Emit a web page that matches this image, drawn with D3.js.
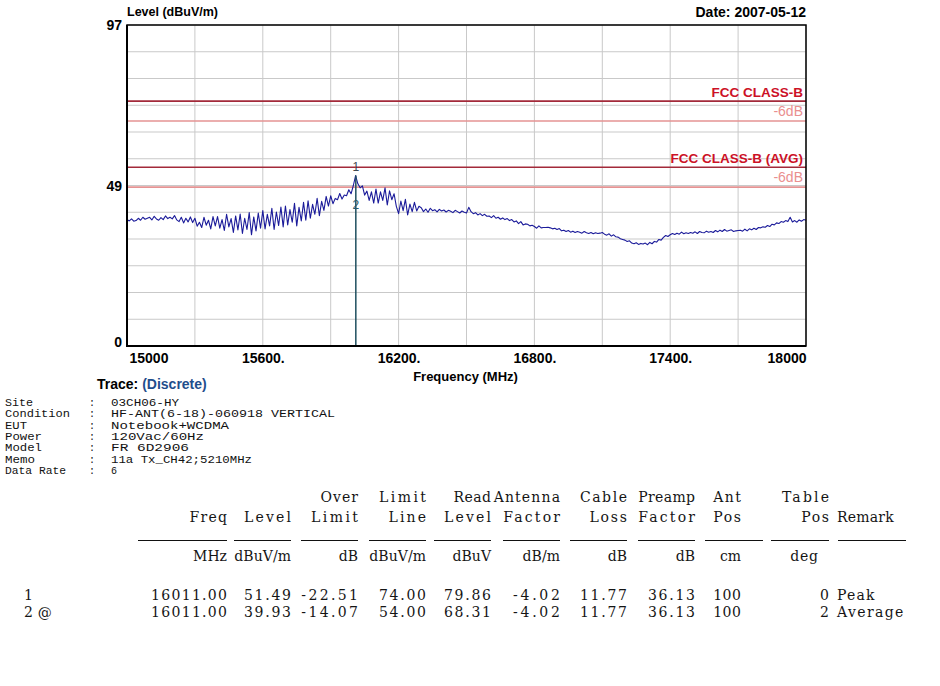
<!DOCTYPE html>
<html><head><meta charset="utf-8">
<script src="https://cdn.jsdelivr.net/npm/d3@7/dist/d3.min.js"></script>
<style>body{margin:0;background:#fff;}svg{display:block;}</style>
</head><body>
<svg id="c" width="940" height="686"></svg>
<script>
// ---------------- data ----------------
const traceStartMHz = 15000;
const traceStepMHz = 10;
const traceLevels = [
  38.2,37.8,38.4,37.7,37.9,38.6,38.0,38.9,38.3,38.6,
  38.9,38.1,39.2,38.4,38.0,38.8,38.2,39.3,38.5,38.9,
  38.4,39.4,38.1,37.6,38.9,37.2,38.6,37.5,39.0,37.3,
  38.6,36.2,37.4,35.8,38.9,36.5,38.0,35.4,39.1,36.3,
  39.1,35.6,38.2,34.9,39.8,36.0,38.5,34.3,39.3,35.1,
  39.9,34.0,38.6,35.2,40.3,33.6,39.0,34.8,40.2,35.6,
  40.9,35.4,39.8,36.3,41.6,35.2,40.5,36.4,42.0,36.0,
  42.3,36.6,41.2,37.4,43.1,36.3,41.9,37.8,43.4,38.0,
  43.9,38.6,42.8,39.8,44.6,39.4,43.7,41.0,45.2,42.3,
  45.4,43.0,44.6,44.2,46.1,44.4,45.6,45.4,47.2,46.0,
  48.5,51.5,49.0,47.8,48.4,45.6,46.8,44.0,46.6,43.2,
  47.4,43.2,46.6,44.0,47.8,42.6,46.9,44.2,46.0,42.2,
  40.0,43.8,40.9,44.3,39.6,42.9,40.6,43.4,40.8,42.2,
  41.8,40.6,41.4,40.4,41.6,40.9,41.2,40.5,41.3,40.8,
  41.1,40.5,41.0,40.7,40.3,41.0,40.6,40.2,40.8,40.4,
  40.2,41.9,40.6,40.0,40.3,39.6,40.0,39.4,39.8,39.2,
  39.3,38.8,39.4,38.6,38.9,38.3,38.7,38.2,38.5,37.9,
  38.2,37.5,37.8,37.0,37.6,36.6,36.9,36.8,36.3,36.5,
  36.1,35.6,36.3,35.7,35.8,35.8,35.9,35.7,35.4,35.6,
  35.2,35.5,34.8,35.0,34.6,34.9,34.4,34.7,34.3,34.6,
  34.4,34.1,34.6,34.2,34.0,34.3,33.9,34.2,34.0,34.1,
  34.3,33.8,33.5,33.9,33.2,33.6,33.0,32.9,32.4,32.2,
  32.0,31.6,31.8,31.1,30.9,31.2,30.7,31.0,30.8,31.1,
  30.6,31.3,30.9,31.6,31.4,32.2,32.0,32.8,33.4,33.1,
  33.6,34.0,33.7,34.1,33.8,34.4,33.9,34.2,34.0,34.3,
  34.1,34.5,34.0,34.6,34.3,34.2,34.7,34.4,34.6,34.3,
  34.9,34.5,35.0,34.6,35.2,34.7,34.9,35.1,34.6,34.8,
  34.9,35.0,34.7,35.3,34.8,35.4,35.1,35.6,35.2,35.8,
  35.7,36.0,35.9,36.4,36.1,36.8,36.6,37.2,37.0,37.6,
  37.4,37.9,37.6,38.9,37.5,37.9,37.4,38.1,37.7,38.2,
  38.0
];
const xDomain = [15000, 18000];
const yDomain = [0, 97];
const xTickValues = [15000, 15600, 16200, 16800, 17400, 18000];
const xTickLabels = ["15000", "15600.", "16200.", "16800.", "17400.", "18000"];
const yTickValues = [0, 49, 97];
const limitNames = ["FCC CLASS-B", "-6dB", "FCC CLASS-B (AVG)", "-6dB"];
const limitLevels = [74, 68, 54, 48];
const markerIds = ["1", "2"];
const markerFreqs = [16011, 16011];
const markerLevels = [51.49, 39.93];

const infoLabels = ["Site", "Condition", "EUT", "Power", "Model", "Memo", "Data Rate"];
const infoValues = ["03CH06-HY", "HF-ANT(6-18)-060918 VERTICAL", "Notebook+WCDMA", "120Vac/60Hz", "FR 6D2906", "11a Tx_CH42;5210MHz", "6"];

const headTop = ["", "", "Over", "Limit", "Read", "Antenna", "Cable", "Preamp", "Ant", "Table"];
const headBottom = ["Freq", "Level", "Limit", "Line", "Level", "Factor", "Loss", "Factor", "Pos", "Pos"];
const headUnits = ["MHz", "dBuV/m", "dB", "dBuV/m", "dBuV", "dB/m", "dB", "dB", "cm", "deg"];
const rowIds = ["1", "2 @"];
const colFreq = ["16011.00", "16011.00"];
const colLevel = ["51.49", "39.93"];
const colOverLimit = ["-22.51", "-14.07"];
const colLimitLine = ["74.00", "54.00"];
const colReadLevel = ["79.86", "68.31"];
const colAntFactor = ["-4.02", "-4.02"];
const colCableLoss = ["11.77", "11.77"];
const colPreamp = ["36.13", "36.13"];
const colAntPos = ["100", "100"];
const colTablePos = ["0", "2"];
const colRemark = ["Peak", "Average"];

// ---------------- drawing ----------------
const svg = d3.select("#c");
const L = 127, R = 806, T = 25, B = 346;
const x = d3.scaleLinear().domain(xDomain).range([L, R]);
const y = d3.scaleLinear().domain(yDomain).range([B, T]);
const sans = "Arial, 'Liberation Sans', sans-serif";

// grid
const g = svg.append("g");
g.selectAll("line.vg").data(d3.range(xDomain[0], xDomain[1] + 1, 300)).enter().append("line")
  .attr("x1", d => x(d)).attr("x2", d => x(d)).attr("y1", T).attr("y2", B)
  .attr("stroke", "#c9c9c9").attr("stroke-width", 1);
g.selectAll("line.hg").data(d3.range(0, 13).map(i => yDomain[1] * i / 12)).enter().append("line")
  .attr("x1", L).attr("x2", R).attr("y1", d => y(d)).attr("y2", d => y(d))
  .attr("stroke", "#c9c9c9").attr("stroke-width", 1);

// limit lines
const limitColors = ["#a32a3a", "#e59393", "#a32a3a", "#e59393"];
limitLevels.forEach((lv, i) => {
  g.append("line").attr("x1", L).attr("x2", R).attr("y1", y(lv)).attr("y2", y(lv))
    .attr("stroke", limitColors[i]).attr("stroke-width", 1.6);
  const isMain = i % 2 === 0;
  g.append("text").attr("x", R - 3).attr("y", y(lv) - (isMain ? 4.5 : 5))
    .attr("text-anchor", "end")
    .attr("font-family", sans)
    .attr("font-size", isMain ? 13.5 : 14)
    .attr("font-weight", isMain ? "bold" : "normal")
    .attr("fill", isMain ? "#cc1126" : "#ea8f8f")
    .text(limitNames[i]);
});

// trace
const line = d3.line()
  .x((d, i) => x(traceStartMHz + i * traceStepMHz))
  .y(d => y(d));
g.append("path").datum(traceLevels).attr("d", line)
  .attr("fill", "none").attr("stroke", "#1b1b9a").attr("stroke-width", 1.1)
  .attr("stroke-linejoin", "round");

// marker
g.append("line").attr("x1", x(markerFreqs[0])).attr("x2", x(markerFreqs[0]))
  .attr("y1", y(d3.max(markerLevels))).attr("y2", y(0))
  .attr("stroke", "#1f4f5f").attr("stroke-width", 1.5);
markerIds.forEach((m, i) => {
  g.append("text").attr("x", x(markerFreqs[i])).attr("y", y(markerLevels[i]) - 5)
    .attr("text-anchor", "middle").attr("font-family", sans).attr("font-size", 12)
    .attr("fill", i === 0 ? "#404850" : "#2a5a6a").text(m);
});

// frame
svg.append("rect").attr("x", L).attr("y", T).attr("width", R - L).attr("height", B - T)
  .attr("fill", "none").attr("stroke", "#000").attr("stroke-width", 1.5);
svg.append("path").attr("d", `M${L},${T}V${B}H${R}`).attr("fill", "none")
  .attr("stroke", "#000").attr("stroke-width", 2);

// axes
const xAxis = d3.axisBottom(x).tickValues(xTickValues).tickSize(0).tickPadding(7)
  .tickFormat((d, i) => xTickLabels[i]);
const xg = svg.append("g").attr("transform", `translate(0,${B})`).call(xAxis);
xg.select(".domain").remove();
xg.selectAll("text").attr("font-family", sans).attr("font-size", 14).attr("font-weight", "bold")
  .attr("fill", "#000")
  .attr("text-anchor", (d, i) => i === 0 ? "start" : (i === xTickValues.length - 1 ? "end" : "middle"))
  .attr("dx", (d, i) => i === 0 ? 2 : 0);

const yAxis = d3.axisLeft(y).tickValues(yTickValues).tickSize(0).tickPadding(5)
  .tickFormat(d3.format("d"));
const yg = svg.append("g").attr("transform", `translate(${L},0)`).call(yAxis);
yg.select(".domain").remove();
yg.selectAll("text").attr("font-family", sans).attr("font-size", 14).attr("font-weight", "bold")
  .attr("fill", "#000")
  .attr("y", d => d === 0 ? -4 : (d === 49 ? 2 : 0));

// titles
svg.append("text").attr("x", L).attr("y", 16).attr("font-family", sans).attr("font-size", 12.5)
  .attr("font-weight", "bold").text("Level (dBuV/m)");
svg.append("text").attr("x", R).attr("y", 17).attr("text-anchor", "end").attr("font-family", sans)
  .attr("font-size", 14).attr("font-weight", "bold").text("Date: 2007-05-12");
svg.append("text").attr("x", (L + R) / 2 - 1).attr("y", 381).attr("text-anchor", "middle")
  .attr("font-family", sans).attr("font-size", 13).attr("font-weight", "bold").text("Frequency (MHz)");

const tr = svg.append("text").attr("x", 97).attr("y", 389).attr("font-family", sans)
  .attr("font-size", 14).attr("font-weight", "bold");
tr.append("tspan").attr("fill", "#000").text("Trace: ");
tr.append("tspan").attr("fill", "#1f4e8c").text("(Discrete)");

// info block
const mono = "'Liberation Mono', 'DejaVu Sans Mono', monospace";
const infoWidths = [68, 224, 118, 93, 78, 141, 6];
const labelWidths = [28, 65, 22, 37, 37, 30, 61];
infoLabels.forEach((lab, i) => {
  const yy = 406 + 11.35 * i;
  svg.append("text").attr("x", 5).attr("y", yy).attr("font-family", mono).attr("font-size", 10)
    .attr("fill", "#111").attr("textLength", labelWidths[i]).attr("lengthAdjust", "spacingAndGlyphs")
    .text(lab);
  svg.append("text").attr("x", 89).attr("y", yy).attr("font-family", mono).attr("font-size", 10)
    .attr("fill", "#111").text(":");
  const t = svg.append("text").attr("x", 111).attr("y", yy).attr("font-family", mono)
    .attr("font-size", 10).attr("fill", "#111").text(infoValues[i]);
  if (infoValues[i].length > 1) t.attr("textLength", infoWidths[i]).attr("lengthAdjust", "spacingAndGlyphs");
});

// table
const serif = "'DejaVu Serif', 'Liberation Serif', serif";
const cw = 9.62;
const colEnds = [227, 291, 358, 426, 491, 560, 627, 695, 741, 829];
function cell(txt, xr, yy, anchor) {
  if (!txt) return;
  const t = svg.append("text").attr("x", xr).attr("y", yy).attr("text-anchor", anchor || "end")
    .attr("font-family", serif).attr("font-size", 14).attr("fill", "#151515").text(txt);
  const target = txt.length * cw - 1;
  const natural = t.node().getComputedTextLength();
  if (natural < target) t.attr("textLength", target).attr("lengthAdjust", "spacing");
}
headTop.forEach((h, i) => cell(h, colEnds[i], 502));
headBottom.forEach((h, i) => cell(h, colEnds[i], 522));
cell("Remark", 837, 522, "start");
headUnits.forEach((h, i) => cell(h, i === 9 ? 818 : colEnds[i], 561));

// underlines
const ulEnds = [227, 291, 358, 426, 491, 560, 627, 695, 763, 829, 906];
const ulWidths = [89, 57, 57, 57, 57, 57, 57, 57, 58, 58, 68];
ulEnds.forEach((e, i) => {
  svg.append("line").attr("x1", e - ulWidths[i]).attr("x2", e).attr("y1", 540.5).attr("y2", 540.5)
    .attr("stroke", "#111").attr("stroke-width", 1.2);
});

const cols = [colFreq, colLevel, colOverLimit, colLimitLine, colReadLevel, colAntFactor,
  colCableLoss, colPreamp, colAntPos, colTablePos];
rowIds.forEach((id, r) => {
  const yy = 600 + r * 17;
  cell(id, 24, yy, "start");
  cols.forEach((c, i) => cell(c[r], colEnds[i], yy));
  cell(colRemark[r], 837, yy, "start");
});
</script>
</body></html>
